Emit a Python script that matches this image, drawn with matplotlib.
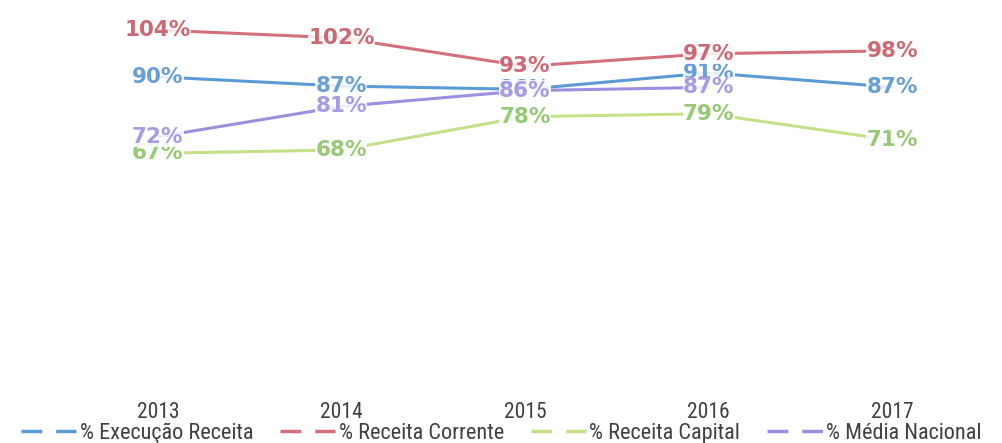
import matplotlib
matplotlib.use("Agg")
import matplotlib.pyplot as plt
from matplotlib.lines import Line2D
from matplotlib import font_manager

years = ["2013", "2014", "2015", "2016", "2017"]
exec_receita = [90.2, 87.4, 86.4, 91.4, 87.1]
receita_corrente = [104.4, 102.0, 93.4, 97.2, 98.1]
receita_capital = [67.0, 68.0, 78.1, 79.0, 71.0]
media_nacional = [72.0, 81.2, 86.0, 87.0, None]

series_names = ["% Execução Receita", "% Receita Corrente", "% Receita Capital", "% Média Nacional"]
line_colors = ["#5b9bd5", "#d4707c", "#c4e088", "#9b8fe0"]
text_colors = ["#6a9fd2", "#c96a76", "#98c878", "#a79ce4"]

avail = {f.name for f in font_manager.fontManager.ttflist}
narrow = "DejaVu Sans"
for cand in ["Liberation Sans Narrow", "DejaVu Sans Condensed", "Roboto Condensed", "Open Sans Condensed"]:
    if cand in avail:
        narrow = cand
        break
is_narrow = narrow != "DejaVu Sans"
tick_size = 15.5 if is_narrow else 14
leg_size = 16 if is_narrow else 13.5

fig = plt.figure(figsize=(10.02, 4.43), dpi=100)
ax = fig.add_axes([66/1002, 1 - 374/443, (984-66)/1002, (374-5)/443])
ax.set_xlim(-0.5, len(years) - 0.5)
ax.set_ylim(0, 112)

xs = list(range(len(years)))
all_series = [exec_receita, receita_corrente, receita_capital, media_nacional]
for i, (vals, lc, tc) in enumerate(zip(all_series, line_colors, text_colors)):
    px = [x for x, v in zip(xs, vals) if v is not None]
    pv = [v for v in vals if v is not None]
    ax.plot(px, pv, color=lc, lw=2.2, solid_capstyle="round", zorder=2 + i)
    for x, v in zip(px, pv):
        ax.text(x, v, f"{round(v):d}%", ha="center", va="center", color=tc,
                fontsize=15.5, fontweight="bold", family="DejaVu Sans",
                zorder=10 + i,
                bbox=dict(facecolor="white", edgecolor="none", pad=0.2, alpha=0.85))

for s in ax.spines.values():
    s.set_visible(False)
ax.set_yticks([])
ax.set_xticks(xs)
ax.set_xticklabels(years, fontsize=tick_size, family=narrow, color="#404040")
ax.tick_params(axis="x", length=0, pad=20)

handles = [Line2D([0], [0], color=c, lw=2.5, dashes=(6, 4)) for c in line_colors]
fig.legend(handles, series_names, loc="center", bbox_to_anchor=(0.5, 1 - 433/443),
           ncol=4, frameon=False, prop={"family": narrow, "size": leg_size},
           handlelength=2.5, handletextpad=0.15, columnspacing=1.2, labelcolor="#404040",
           borderpad=0, borderaxespad=0)

fig.savefig("out.png", dpi=100)
